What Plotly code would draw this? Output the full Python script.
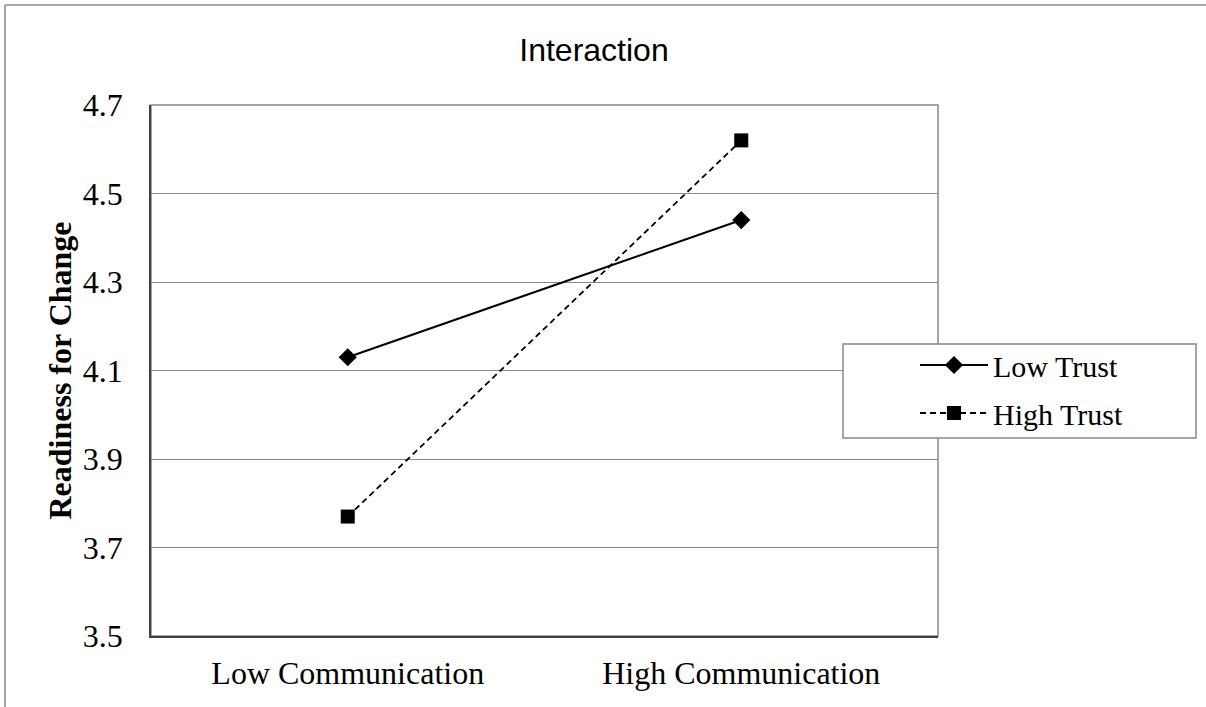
import plotly.graph_objects as go

categories = ["Low Communication", "High Communication"]
low_trust = [4.13, 4.44]
high_trust = [3.77, 4.62]
y_ticks = [3.5, 3.7, 3.9, 4.1, 4.3, 4.5, 4.7]

serif = "Liberation Serif"

fig = go.Figure()
fig.add_trace(go.Scatter(
    x=categories, y=low_trust, name="Low Trust", mode="lines+markers",
    line=dict(color="black", width=2),
    marker=dict(symbol="diamond", size=14, color="black"),
    legendgroup="a",
))
fig.add_trace(go.Scatter(
    x=categories, y=high_trust, name="High Trust", mode="lines+markers",
    line=dict(color="black", width=1.8, dash="6px,4px"),
    marker=dict(symbol="square", size=14, color="black"),
    legendgroup="b",
))

L, R, T, B = 151, 268, 105, 71
W, H = 1206, 707
pw, ph = W - L - R, H - T - B

def px2x(p):
    return (p - L) / pw

def px2y(p):
    return (H - B - p) / ph

fig.update_layout(
    width=W, height=H,
    margin=dict(l=L, r=R, t=T, b=B),
    paper_bgcolor="white", plot_bgcolor="white",
    title=dict(text="Interaction", xref="container", x=594 / W, xanchor="center", y=1 - 50 / H, yanchor="middle",
               font=dict(family="Liberation Sans", size=32, color="black")),
    xaxis=dict(
        type="category", range=[-0.5, 1.5], showgrid=False,
        showline=True, linecolor="#404040", linewidth=1.5, mirror=False,
        ticks="", ticklabelstandoff=8, tickfont=dict(family=serif, size=32, color="black"),
    ),
    yaxis=dict(
        range=[3.5, 4.7], tickvals=y_ticks, ticktext=[f"{v:.1f}" for v in y_ticks],
        showgrid=True, gridcolor="#888888", gridwidth=1,
        showline=True, linecolor="#404040", linewidth=1.5, zeroline=False,
        ticks="", ticklen=0, ticklabelstandoff=20,
        tickfont=dict(family=serif, size=32, color="black"),
        title=dict(text="<b>Readiness for Change</b>", font=dict(family=serif, size=32, color="black"), standoff=2),
    ),
    showlegend=True,
    legend=dict(
        x=px2x(915), y=px2y(339), xanchor="left", yanchor="top",
        bgcolor="rgba(0,0,0,0)", borderwidth=0,
        font=dict(family=serif, size=30, color="black"),
        traceorder="grouped", tracegroupgap=6, itemwidth=68,
    ),
    shapes=[
        dict(type="rect", xref="paper", yref="paper", x0=px2x(151), x1=px2x(938), y0=px2y(636), y1=px2y(105),
             line=dict(color="#888888", width=1.5), layer="below"),
        dict(type="rect", xref="paper", yref="paper", x0=px2x(843), x1=px2x(1196), y0=px2y(438), y1=px2y(344),
             line=dict(color="#888888", width=1.5), fillcolor="white", layer="above"),
        dict(type="line", xref="paper", yref="paper", x0=px2x(5), x1=px2x(1400), y0=px2y(5), y1=px2y(5),
             line=dict(color="#888888", width=1.5)),
        dict(type="line", xref="paper", yref="paper", x0=px2x(5), x1=px2x(5), y0=px2y(900), y1=px2y(5),
             line=dict(color="#888888", width=1.5)),
    ],
)

fig.write_html("out.html", config={"displayModeBar": False},
               post_script="document.body.style.margin='0';document.body.style.overflow='hidden';")
